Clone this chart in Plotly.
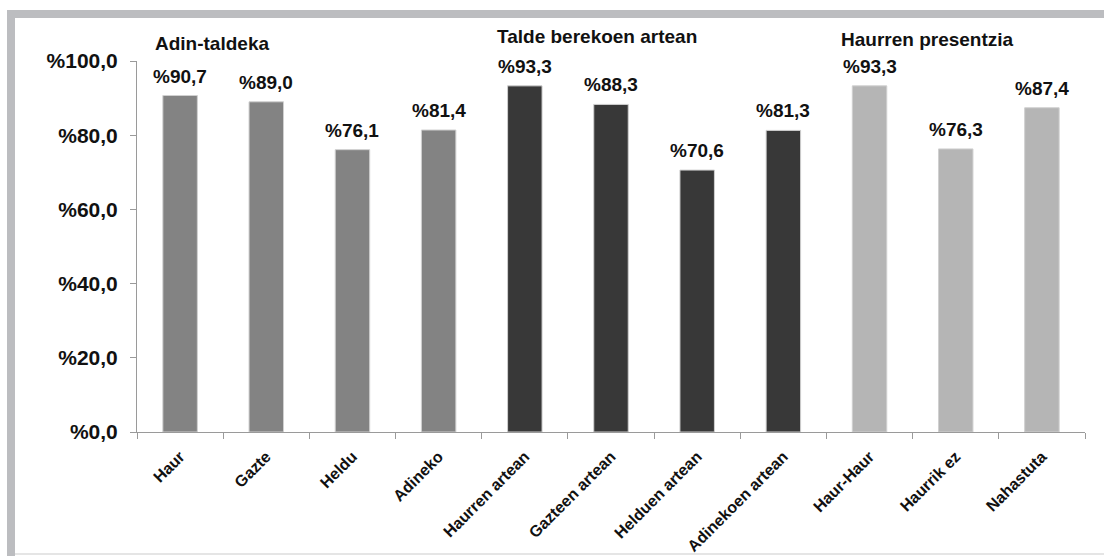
import plotly.graph_objects as go

categories = ["Haur", "Gazte", "Heldu", "Adineko",
              "Haurren artean", "Gazteen artean", "Helduen artean", "Adinekoen artean",
              "Haur-Haur", "Haurrik ez", "Nahastuta"]
values = [90.7, 89.0, 76.1, 81.4, 93.3, 88.3, 70.6, 81.3, 93.3, 76.3, 87.4]
group_sizes = [4, 4, 3]
group_colors = ["#838383", "#383838", "#b5b5b5"]
group_titles = ["Adin-taldeka", "Talde berekoen artean", "Haurren presentzia"]
y_ticks = [0, 20, 40, 60, 80, 100]

colors = []
for size, col in zip(group_sizes, group_colors):
    colors += [col] * size
labels = ["%" + f"{v:.1f}".replace(".", ",") for v in values]
y_ticktext = ["<b>%" + f"{v:.1f}".replace(".", ",") + "</b>" for v in y_ticks]

FONT = "Liberation Sans, Arial, sans-serif"
TXT = "#111111"

fig = go.Figure(go.Bar(
    x=categories, y=values,
    marker=dict(color=colors, line=dict(color="#d0d0d0", width=1)),
    hoverinfo="skip",
))

W, H = 1104, 556
L, R, T, B = 137, 19, 61, 124
pw, ph = W - L - R, H - T - B

def px(x):
    return (x - L) / pw

def py(y):
    return (H - B - y) / ph

annotations = []
for c, v, t in zip(categories, values, labels):
    annotations.append(dict(text="<b>" + t + "</b>", x=c, y=v, xref="x", yref="y",
                            showarrow=False, xanchor="center", yanchor="bottom", yshift=7,
                            font=dict(family=FONT, size=19, color=TXT)))
for title, xc, yc in zip(group_titles, [212, 597, 927], [44, 37, 39]):
    annotations.append(dict(text="<b>" + title + "</b>", xref="paper", yref="paper",
                            x=px(xc), y=py(yc), showarrow=False, xanchor="center", yanchor="middle",
                            font=dict(family=FONT, size=19, color=TXT)))

shapes = [
    dict(type="rect", xref="paper", yref="paper", x0=px(7), x1=px(1104), y0=py(18), y1=py(10),
         fillcolor="#bcbdc0", line=dict(width=0), layer="below"),
    dict(type="rect", xref="paper", yref="paper", x0=px(7), x1=px(15), y0=py(556), y1=py(10),
         fillcolor="#bcbdc0", line=dict(width=0), layer="below"),
    dict(type="line", xref="paper", yref="paper", x0=px(15), x1=px(1104), y0=py(554), y1=py(554),
         line=dict(color="#dddddd", width=1.5), layer="below"),
]

fig.update_layout(
    width=W, height=H,
    margin=dict(l=L, r=R, t=T, b=B, autoexpand=False),
    paper_bgcolor="white", plot_bgcolor="white",
    bargap=0.6,
    showlegend=False,
    annotations=annotations,
    shapes=shapes,
    font=dict(family=FONT, color=TXT),
)
fig.update_yaxes(range=[0, 100], tickvals=y_ticks, ticktext=y_ticktext,
                 showgrid=False, zeroline=False, showline=True, linecolor="#9a9a9a", linewidth=1,
                 ticks="outside", ticklen=6, tickcolor="#9a9a9a", ticklabelstandoff=8,
                 tickfont=dict(family=FONT, size=21, color=TXT))
fig.update_xaxes(tickangle=-45, showgrid=False, showline=True, linecolor="#9a9a9a", linewidth=1,
                 ticks="outside", ticklen=6, tickcolor="#9a9a9a", tickson="boundaries",
                 ticklabelstandoff=8,
                 tickvals=categories, ticktext=["<b>" + c + "</b>" for c in categories],
                 tickfont=dict(family=FONT, size=16, color=TXT))

fig.write_html("out.html", config={"displayModeBar": False},
               post_script="document.body.style.margin='0px';")
